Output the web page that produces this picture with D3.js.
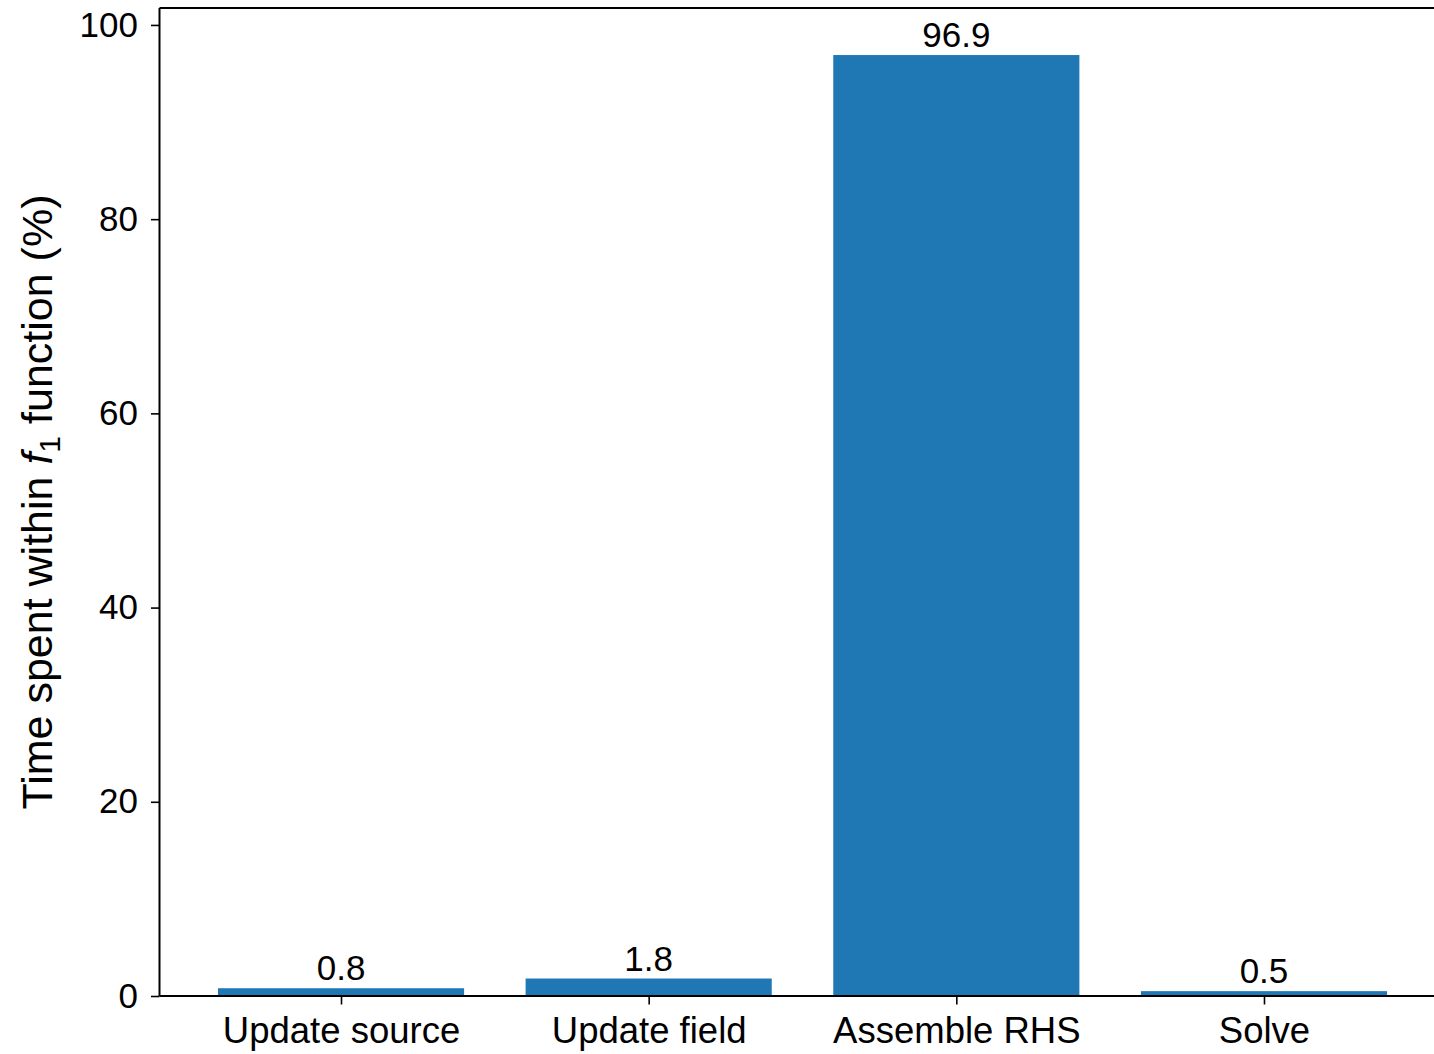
<!DOCTYPE html>
<html>
<head>
<meta charset="utf-8">
<script src="https://cdn.jsdelivr.net/npm/d3@7"></script>
<style>
  body { margin: 0; background: #fff; }
  svg { display: block; font-family: "Liberation Sans", Arial, sans-serif; }
</style>
</head>
<body>
<script>
const categories = ["Update source", "Update field", "Assemble RHS", "Solve"];
const values = [0.8, 1.8, 96.9, 0.5];
const yTicks = [0, 20, 40, 60, 80, 100];

const width = 1434, height = 1054;
const fontSize = 35;

const svg = d3.select("body").append("svg")
  .attr("width", width)
  .attr("height", height);

// matplotlib-like limits: bars of width 0.8, 5% margins
const barW = 0.8;
const x = d3.scaleLinear().domain([-0.59, 3.59]).range([159.5, 1445.5]);
const y = d3.scaleLinear().domain([0, 96.9 * 1.05]).range([996, 8]);

const left = x.range()[0], right = x.range()[1];

// Bars
svg.append("g")
  .selectAll("rect")
  .data(values)
  .join("rect")
  .attr("x", (d, i) => x(i - barW / 2))
  .attr("width", x(barW) - x(0))
  .attr("y", d => y(d))
  .attr("height", d => y(0) - y(d))
  .attr("fill", "#1f77b4");

// Value labels
svg.append("g")
  .selectAll("text")
  .data(values)
  .join("text")
  .attr("x", (d, i) => x(i))
  .attr("y", d => y(d) - 8)
  .attr("text-anchor", "middle")
  .attr("font-size", fontSize)
  .attr("fill", "#000")
  .text(d => d.toFixed(1));

// Spines
svg.append("line")
  .attr("x1", left).attr("x2", left)
  .attr("y1", y.range()[1]).attr("y2", y.range()[0])
  .attr("stroke", "#000").attr("stroke-width", 2);
svg.append("line")
  .attr("x1", left).attr("x2", right)
  .attr("y1", y.range()[1]).attr("y2", y.range()[1])
  .attr("stroke", "#000").attr("stroke-width", 2);
svg.append("line")
  .attr("x1", left).attr("x2", right)
  .attr("y1", y.range()[0]).attr("y2", y.range()[0])
  .attr("stroke", "#000").attr("stroke-width", 2);

// Y axis
const yAxis = svg.append("g")
  .attr("transform", `translate(${left},0)`)
  .call(d3.axisLeft(y).tickValues(yTicks).tickSize(8.5).tickPadding(13).tickFormat(d3.format("d")));
yAxis.select(".domain").remove();
yAxis.selectAll("line").attr("stroke", "#000").attr("stroke-width", 1.6);
yAxis.selectAll("text")
  .attr("font-size", fontSize)
  .attr("font-family", "Liberation Sans, Arial, sans-serif")
  .attr("fill", "#000");

// X axis
const xAxis = svg.append("g")
  .attr("transform", `translate(0,${y(0)})`)
  .call(d3.axisBottom(x).tickValues(d3.range(categories.length))
    .tickSize(8.5).tickPadding(13).tickFormat(i => categories[i]));
xAxis.select(".domain").remove();
xAxis.selectAll("line").attr("stroke", "#000").attr("stroke-width", 1.6);
xAxis.selectAll("text")
  .attr("font-size", 36.5)
  .attr("font-family", "Liberation Sans, Arial, sans-serif")
  .attr("fill", "#000");

// Y label with italic f and subscript 1
const labelSize = 43;
const yLabel = svg.append("text")
  .attr("transform", `translate(52,${(y.range()[0] + y.range()[1]) / 2}) rotate(-90)`)
  .attr("text-anchor", "middle")
  .attr("font-size", labelSize)
  .attr("fill", "#000");
yLabel.append("tspan").text("Time spent within ");
yLabel.append("tspan").attr("font-style", "italic").text("f");
yLabel.append("tspan").attr("font-size", labelSize * 0.7).attr("dy", 8).text("1");
yLabel.append("tspan").attr("dy", -8).text(" function (%)");
</script>
</body>
</html>
